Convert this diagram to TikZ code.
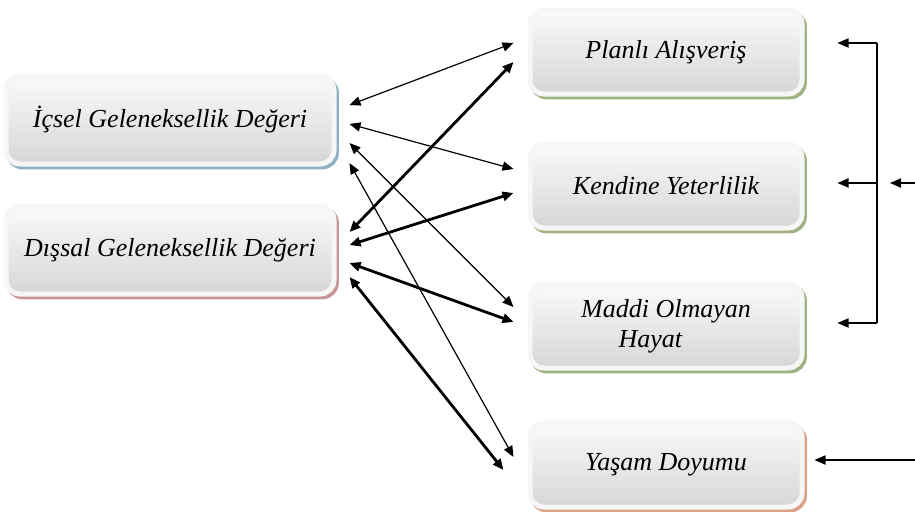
\documentclass[tikz,border=0pt]{standalone}
\usepackage{fontspec}
\setmainfont{Liberation Serif}
\usetikzlibrary{arrows.meta, calc, shadows}

\definecolor{golgeMavi}{RGB}{140,178,194}
\definecolor{golgePembe}{RGB}{200,150,150}
\definecolor{golgeYesil}{RGB}{160,178,130}
\definecolor{golgeTuruncu}{RGB}{218,162,135}

\tikzset{
    kutu/.style={rectangle, rounded corners=7pt, draw=gray!7, line width=2.5pt,
        top color=gray!4, bottom color=gray!32, align=center,
        font=\fontsize{13}{15}\selectfont\itshape},
    sol/.style={kutu, minimum width=164pt, minimum height=44pt},
    sag/.style={kutu, minimum width=136pt, minimum height=42pt},
    golge/.style={general shadow={shadow xshift=1.2pt, shadow yshift=-1.4pt,
        fill=#1, draw=#1, line width=2.5pt}},
    ince/.style={line width=0.6pt},
    kalin/.style={line width=1.4pt}
}

\begin{document}
\begin{tikzpicture}[x=0.5pt, y=-0.5pt, >={Triangle[length=5.5pt,width=4.6pt]}]
            \useasboundingbox (0,0) rectangle (915,511);

            \node[sol, golge=golgeMavi] (icsel) at (170,120) {İçsel Geleneksellik Değeri};
            \node[sol, golge=golgePembe] (dissal) at (170,250) {Dışsal Geleneksellik Değeri};

            \node[sag, golge=golgeYesil] (planli) at (666,52) {Planlı Alışveriş};
            \node[sag, golge=golgeYesil] (kendine) at (666,186) {Kendine Yeterlilik};
            \node[sag, golge=golgeYesil] (maddi) at (666,326) {Maddi Olmayan\\ Hayat\hspace*{1.2em}};
            \node[sag, golge=golgeTuruncu] (yasam) at (666,465) {Yaşam Doyumu};

            \foreach \j/\ya/\yb in {planli/-15/-9, kendine/4/-17, maddi/23/-19, yasam/43/-8} {
                \draw[<->, ince] ($(icsel.east)+(13,\ya)$) -- ($(\j.west)+(-14,\yb)$);
            }

            \foreach \j/\ya/\yb/\xb in {planli/-18/10/-14, kendine/-5/7/-14, maddi/13/-4/-14, yasam/27/5/-24} {
                \draw[<->, kalin] ($(dissal.east)+(13,\ya)$) -- ($(\j.west)+(\xb,\yb)$);
            }

            % sag taraftaki kol
            \coordinate (kolUst) at (877,43);
            \coordinate (kolOrta) at (877,183);
            \coordinate (kolAlt) at (877,323);
            \draw[ince] (kolUst) -- (kolAlt);
            \foreach \j/\k in {planli/kolUst, kendine/kolOrta, maddi/kolAlt} {
                \draw[->, ince] (\k) -- (\k -| {$(\j.east)+(33,0)$});
            }

            \coordinate (giris) at (915,183);
            \coordinate (girisUc) at (890,183);
            \draw[->, ince] (giris) -- (girisUc);

            \coordinate (yasamGiris) at (915,460);
            \draw[->, ince] (yasamGiris) -- ($(yasam.east)+(10,-5)$);
        \end{tikzpicture}
\end{document}
